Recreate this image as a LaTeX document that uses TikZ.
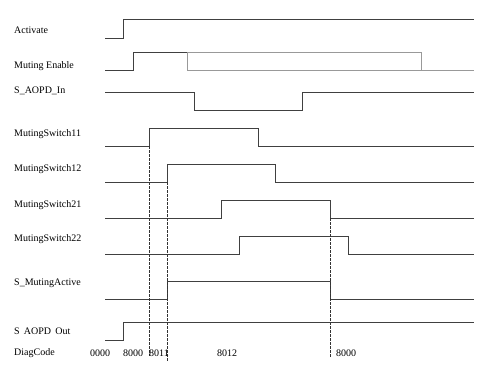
\documentclass[tikz,border=0pt]{standalone}
\usepackage{fontspec}
\setmainfont{Liberation Serif}
\begin{document}
\begin{tikzpicture}[x=1pt, y=-1pt,
    sig/.style={black!75, line width=0.7pt},
    ghost/.style={black!40, line width=0.7pt},
    eventline/.style={black!80, dash pattern=on 2.5pt off 1.5pt, line width=0.5pt},
    lbl/.style={right, inner sep=0pt, font=\fontsize{10}{12}\selectfont},
    code/.style={inner sep=0pt, font=\fontsize{10}{12}\selectfont}]
    \useasboundingbox (0,0) rectangle (486,372);

    % signal names
    \node[lbl] (nAct) at (14,30) {Activate};
    \node[lbl] (nEn) at (14,66) {Muting Enable};
    \node[lbl] (nIn) at (14,91) {S\_AOPD\_In};
    \node[lbl] (nS11) at (14,134) {MutingSwitch11};
    \node[lbl] (nS12) at (14,169) {MutingSwitch12};
    \node[lbl] (nS21) at (14,205) {MutingSwitch21};
    \node[lbl] (nS22) at (14,239) {MutingSwitch22};
    \node[lbl] (nMA) at (14,283) {S\_MutingActive};
    \node[lbl] (nOut) at (14,331) {S~\,AOPD~\,Out};
    \node[lbl] (nDiag) at (14,353) {DiagCode};

    % waveforms
    \draw[sig] (105,38) -- (123,38) -- (123,19) -- (474,19);
    \draw[sig] (105,70) -- (133,70) -- (133,52) -- (187,52);
    \draw[ghost] (187,52) -- (421,52) -- (421,70) -- (474,70);
    \draw[ghost] (187,52) -- (187,70) -- (421,70);
    \draw[sig] (105,92) -- (194,92) -- (194,110) -- (302,110) -- (302,92) -- (474,92);
    \draw[sig] (105,146) -- (149,146) -- (149,128) -- (258,128) -- (258,146) -- (474,146);
    \draw[sig] (105,182) -- (167,182) -- (167,164) -- (275,164) -- (275,182) -- (474,182);
    \draw[sig] (105,218) -- (221,218) -- (221,200) -- (330,200) -- (330,218) -- (474,218);
    \draw[sig] (105,254) -- (239,254) -- (239,236) -- (348,236) -- (348,254) -- (474,254);
    \draw[sig] (105,299) -- (167,299) -- (167,281) -- (330,281) -- (330,299) -- (474,299);
    \draw[sig] (105,340) -- (123,340) -- (123,322) -- (474,322);

    % event markers
    \draw[eventline] (149,146) -- (149,356);
    \draw[eventline] (167,182) -- (167,362);
    \draw[eventline] (330,218) -- (330,357);

    % diagnostic codes
    \node[code] (c0) at (100,353) {0000};
    \node[code] (c1) at (133,353) {8000};
    \node[code] (c2) at (159,353) {8011};
    \node[code] (c3) at (227,353) {8012};
    \node[code] (c4) at (346,353) {8000};
\end{tikzpicture}
\end{document}
